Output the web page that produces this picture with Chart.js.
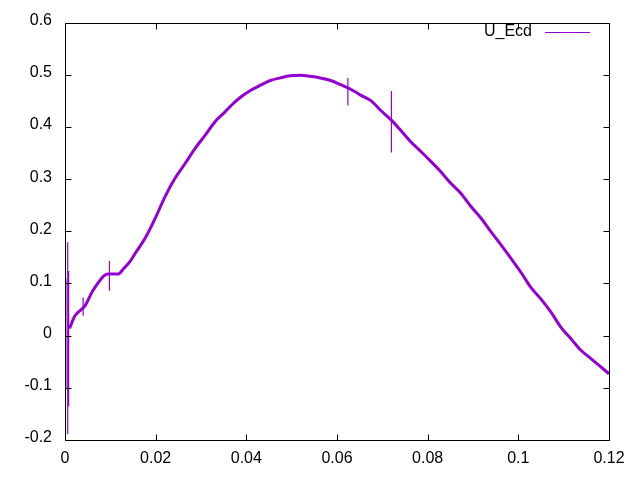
<!DOCTYPE html>
<html>
<head>
<meta charset="utf-8">
<script src="https://cdn.jsdelivr.net/npm/chart.js@4"></script>
<style>
  html, body { margin: 0; padding: 0; background: #fff; }
  canvas { display: block; }
</style>
</head>
<body>
<canvas id="plot" width="640" height="480"></canvas>
<script>
// curve samples (x, U_Ecd)
const curveX = [
  0.0010, 0.0022, 0.0044, 0.0060, 0.0073, 0.0085, 0.0095, 0.0117, 0.0130, 0.0144,
  0.0155, 0.0177, 0.0199, 0.0221, 0.0243, 0.0265, 0.0287, 0.0309, 0.0331, 0.0353,
  0.0370, 0.0387, 0.0409, 0.0431, 0.0453, 0.0475, 0.0497, 0.0519, 0.0541, 0.0563,
  0.0586, 0.0608, 0.0624, 0.0641, 0.0652, 0.0674, 0.0696, 0.0720, 0.0740, 0.0762,
  0.0785, 0.0807, 0.0829, 0.0851, 0.0873, 0.0895, 0.0917, 0.0939, 0.0961, 0.0983,
  0.1006, 0.1028, 0.1050, 0.1072, 0.1094, 0.1116, 0.1138, 0.1160, 0.1182, 0.1200
];
const curveY = [
  0.014, 0.038, 0.057, 0.084, 0.101, 0.114, 0.118, 0.118, 0.129, 0.143,
  0.158, 0.187, 0.225, 0.267, 0.302, 0.330, 0.359, 0.384, 0.410, 0.429,
  0.444, 0.457, 0.470, 0.480, 0.489, 0.494, 0.498, 0.499, 0.497, 0.494,
  0.489, 0.481, 0.475, 0.467, 0.461, 0.451, 0.432, 0.413, 0.394, 0.372,
  0.353, 0.334, 0.314, 0.292, 0.273, 0.248, 0.226, 0.200, 0.175, 0.149,
  0.121, 0.092, 0.070, 0.045, 0.016, -0.006, -0.028, -0.044, -0.060, -0.073
];

// isolated spikes: x position, low and high value
const spikeX = [0.0002, 0.0006, 0.0008, 0.0040, 0.0098, 0.0624, 0.0720];
const spikeLo = [-0.101, -0.189, -0.136, 0.038, 0.086, 0.441, 0.351];
const spikeHi = [0.109, 0.179, 0.124, 0.073, 0.143, 0.494, 0.469];

const xTicks = [0, 0.02, 0.04, 0.06, 0.08, 0.1, 0.12];
const yTicks = [-0.2, -0.1, 0, 0.1, 0.2, 0.3, 0.4, 0.5, 0.6];
const seriesName = 'U_Ecd';

const PURPLE = '#9400d3';
const FONT = '16px "Liberation Sans", Arial, sans-serif';

const curvePoints = curveX.map((x, i) => ({ x, y: curveY[i] }));
const spikePoints = [];
spikeX.forEach((x, i) => {
  spikePoints.push({ x, y: spikeLo[i] }, { x, y: spikeHi[i] }, { x, y: null });
});

const frame = {
  id: 'frame',
  afterDraw(chart) {
    const { ctx, chartArea: a, scales } = chart;
    const L = Math.round(a.left) + 0.5;
    const R = Math.round(a.right) + 0.5;
    const T = Math.round(a.top) + 0.5;
    const B = Math.round(a.bottom) + 0.5;
    const tl = 6;
    ctx.save();
    ctx.strokeStyle = '#000';
    ctx.lineWidth = 1;
    ctx.beginPath();
    xTicks.forEach(v => {
      const px = Math.round(scales.x.getPixelForValue(v)) + 0.5;
      ctx.moveTo(px, B); ctx.lineTo(px, B - tl);
      ctx.moveTo(px, T); ctx.lineTo(px, T + tl);
    });
    yTicks.forEach(v => {
      const py = Math.round(scales.y.getPixelForValue(v)) + 0.5;
      ctx.moveTo(L, py); ctx.lineTo(L + tl, py);
      ctx.moveTo(R, py); ctx.lineTo(R - tl, py);
    });
    ctx.stroke();
    ctx.strokeRect(L, T, R - L, B - T);

    // key, top right
    ctx.font = FONT;
    ctx.fillStyle = '#000';
    ctx.textAlign = 'right';
    ctx.textBaseline = 'middle';
    ctx.fillText(seriesName, 532, 32);
    ctx.strokeStyle = PURPLE;
    ctx.beginPath();
    ctx.moveTo(545, 32.5);
    ctx.lineTo(590, 32.5);
    ctx.stroke();
    ctx.restore();
  }
};

new Chart(document.getElementById('plot'), {
  type: 'line',
  data: {
    datasets: [
      {
        label: seriesName,
        data: curvePoints,
        borderColor: PURPLE,
        borderWidth: 3,
        pointRadius: 0,
        cubicInterpolationMode: 'monotone',
        fill: false
      },
      {
        label: 'spikes',
        data: spikePoints,
        borderColor: PURPLE,
        borderWidth: 1.2,
        pointRadius: 0,
        spanGaps: false,
        fill: false
      }
    ]
  },
  options: {
    responsive: false,
    animation: false,
    layout: { padding: { top: 19, right: 31, left: 0, bottom: 0 } },
    plugins: { legend: { display: false }, tooltip: { enabled: false } },
    scales: {
      x: {
        type: 'linear',
        min: 0,
        max: 0.12,
        afterBuildTicks(scale) { scale.ticks = xTicks.map(value => ({ value })); },
        afterFit(scale) { scale.height = 40; },
        ticks: {
          color: '#000',
          font: { family: '"Liberation Sans", Arial, sans-serif', size: 16 },
          padding: 9,
          maxRotation: 0,
          callback: v => String(+v.toFixed(2))
        },
        grid: { display: false, drawTicks: false },
        border: { display: false }
      },
      y: {
        min: -0.2,
        max: 0.6,
        afterBuildTicks(scale) { scale.ticks = yTicks.map(value => ({ value })); },
        afterFit(scale) { scale.width = 65; },
        ticks: {
          color: '#000',
          font: { family: '"Liberation Sans", Arial, sans-serif', size: 16 },
          padding: 13,
          labelOffset: -2,
          callback: v => String(+v.toFixed(1))
        },
        grid: { display: false, drawTicks: false },
        border: { display: false }
      }
    }
  },
  plugins: [frame]
});
</script>
</body>
</html>
